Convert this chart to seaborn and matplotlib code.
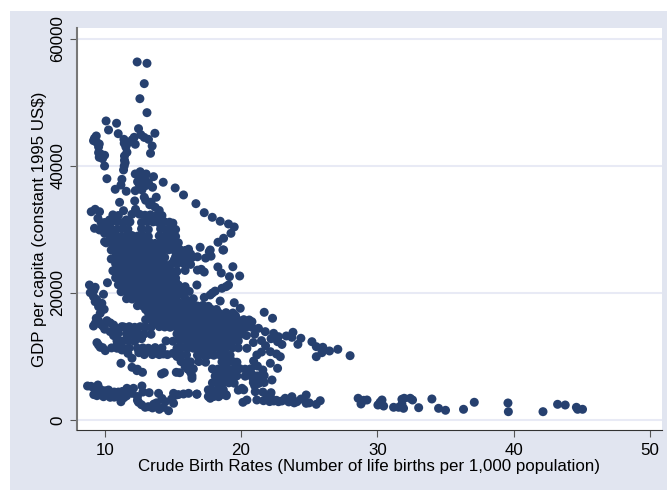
import matplotlib
matplotlib.use('Agg')
import matplotlib.pyplot as plt
from matplotlib.patches import Rectangle
import pandas as pd
import seaborn as sns

# (birth rate, gdp per capita), one list per part of the cloud
top_points = [
    (12.38,56385),(13.1,56170),(12.9,52970),(12.58,50600),(13.1,48400),(10.1,47090),(10.87,46730),
    (10.28,45675),(12.48,45880),(13.68,45150),(10.99,45090),(12.65,44930),(12.16,44520),(9.38,44730),
    (9.25,44360),(9.18,43990),(9.43,43680),(9.6,43470),(11.41,44200),(13.21,44200),(11.43,43580),
    (11.75,43680),(12.24,43420),(13.48,43150),(13.36,42000),(11.63,42160),(11.45,41580),(9.55,42100),
    (9.99,41690),(9.6,41370),(9.84,41160),(9.99,40000),(11.5,40520),(11.43,40000),(11.38,39375),
    (10.16,38000),(10.77,36330),(11.26,37900),(11.19,37000),(11.58,36020),(12.24,38745),(12.6,39100),
    (13.04,38745),(13.58,38320),(12.41,37530),(13.21,37370),(13.51,36650),(12.24,36110),(12.73,36225),
    (12.9,35080),(13.78,35080),(14.29,37440),(15.17,36540),(15.78,35440),(16.69,34070),(17.3,32650),
    (17.89,31920),(18.47,31300),(19.08,30870),(19.5,30400),(19.26,29400),(18.72,28620),(18.31,27990),
    (17.74,26775),(17.0,27200),(16.15,26900),(18.72,26775),(11.09,34280),(11.38,32960),(12.26,33180),
    (9.01,32800),(9.3,33180),(9.62,32800),(9.5,31770),(9.74,31080),(9.25,30190),(9.62,29925),
    (9.99,30190),(10.35,30440),(10.35,31500),(10.84,32020),(11.58,31500),(9.99,29400),(10.48,29140),
    (9.99,28080),(10.48,26775),(10.48,25360),(12.2,34500),(13.3,33900),(13.7,33500),(14.0,33000),
    (12.7,38300),(12.95,37900),(12.55,37000),(13.0,36900),(12.8,37400),(11.55,43000),(12.0,44100),(12.9,44500),
    (9.55,43000),(9.7,41900),(11.45,40900),(13.4,34300),(13.0,34600),(13.95,32500),(14.2,32200),(12.0,32400),
]
core_upper = [
    (10.6,32300),(11.0,32200),(12.55,32400),(12.95,32250),(13.35,32300),(13.75,32100),
    (10.0,31100),(10.5,31200),(10.95,31250),(11.4,31150),(11.85,31200),(12.7,31100),(13.1,31250),(13.55,31200),
    (13.95,31100),(14.35,31250),(14.75,31150),(15.0,31000),
    (10.4,30100),(10.85,30000),(11.3,30150),(11.7,30050),(12.7,30100),(13.2,30000),(14.1,30100),(14.5,30000),
    (15.0,30150),(15.2,30000),
    (10.4,28950),(10.8,29050),(11.2,28900),(11.6,29000),(12.0,29050),(12.4,28950),(12.8,29000),(13.2,28900),
    (14.0,29000),(14.4,28950),(14.8,29050),(15.2,28900),
    (10.1,27900),(10.5,27850),(10.9,27950),(11.3,27900),(11.7,27800),(12.1,27950),(12.5,27850),(12.9,27900),
    (13.3,27950),(13.7,27800),(14.1,27900),(14.5,27850),(14.9,27950),(15.4,27900),
    (10.7,26800),(11.1,26750),(11.5,26850),(11.9,26800),(12.3,26700),(12.7,26850),(13.1,26750),(13.5,26800),
    (13.9,26850),(14.3,26700),(14.7,26800),(15.1,26750),(15.5,26850),(15.9,26700),
    (10.8,25700),(11.2,25650),(11.6,25750),(12.0,25700),(12.4,25600),(12.8,25750),(13.2,25650),(13.6,25700),
    (14.0,25750),(14.4,25600),(15.2,25700),(15.6,25650),(16.0,25750),(16.4,25600),(16.8,25700),(17.4,25500),(17.8,25800),
    (10.8,24600),(11.2,24550),(11.6,24650),(12.0,24600),(12.4,24500),(12.8,24650),(13.2,24550),(13.6,24600),
    (14.0,24650),(14.4,24500),(14.9,24600),(15.3,24550),(15.8,24650),(16.3,24500),
    (10.6,23500),(11.0,23450),(11.4,23550),(11.8,23500),(12.2,23400),(12.6,23550),(13.0,23450),(13.4,23500),
    (13.8,23550),(14.2,23400),(14.6,23500),(14.9,23450),(15.3,23400),(15.9,23550),(16.8,23600),(17.3,23300),
    (10.8,22400),(11.2,22350),(11.6,22450),(12.0,22400),(12.4,22300),(12.8,22450),(13.2,22350),(13.6,22400),
    (14.0,22450),(14.4,22300),(14.8,22400),(15.2,22350),
]
core_between = [
    (10.6,28400),(11.0,28450),(11.4,28350),(11.8,28400),(12.2,28500),(12.6,28350),(13.0,28450),(14.2,28400),(14.6,28350),(15.0,28450),
    (10.9,27300),(11.3,27350),(11.7,27250),(12.1,27300),(12.5,27400),(12.9,27250),(13.3,27350),(13.7,27300),(14.1,27250),(14.5,27400),(14.9,27300),(15.3,27350),
    (11.0,26200),(11.4,26250),(11.8,26150),(12.2,26200),(12.6,26300),(13.0,26150),(13.4,26250),(13.8,26200),(14.2,26150),(15.4,26300),(15.8,26200),(16.3,26150),
    (11.0,25100),(11.4,25150),(11.8,25050),(12.2,25100),(12.6,25200),(13.0,25050),(13.4,25150),(13.8,25100),(14.2,25050),(15.1,25200),(15.5,25100),(16.0,25050),
    (11.0,24000),(11.4,24050),(11.8,23950),(12.2,24000),(12.6,24100),(13.0,23950),(13.4,24050),(13.8,24000),(14.2,23950),(14.6,24100),
    (11.0,22900),(11.4,22950),(11.8,22850),(12.2,22900),(12.6,23000),(13.0,22850),(13.4,22950),(13.8,22900),(14.2,22850),(14.6,23000),(15.0,22900),
    (11.2,21800),(11.6,21850),(12.0,21750),(12.4,21800),(12.8,21900),(13.2,21750),(13.6,21850),(14.0,21800),(14.4,21750),(14.8,21900),(15.2,21800),
    (11.4,20700),(11.8,20750),(12.2,20650),(12.6,20700),(13.0,20800),(13.4,20650),(13.8,20750),(14.2,20700),(14.6,20650),(15.0,20800),(15.4,20700),(15.8,20650),
    (11.8,19600),(12.2,19650),(12.6,19550),(13.0,19600),(13.4,19700),(13.8,19550),(14.2,19650),(14.6,19600),(15.0,19550),(15.4,19700),(15.8,19600),
    (12.6,18500),(13.0,18550),(13.4,18450),(13.8,18500),(14.2,18600),(14.6,18450),(15.0,18550),(15.4,18500),(15.8,18450),(16.2,18600),
    (13.0,17400),(13.4,17450),(13.8,17350),(14.2,17400),(14.6,17500),(15.0,17350),(15.4,17450),(15.8,17400),(16.2,17350),(16.6,17500),(17.0,17400),(17.4,17350),(17.8,17450),(18.2,17400),
    (13.4,16300),(13.8,16350),(14.2,16250),(14.6,16300),(15.0,16400),(15.4,16250),(15.8,16350),(16.2,16300),(16.6,16250),(17.0,16400),(17.4,16300),(17.8,16250),(18.2,16350),(18.6,16300),(19.0,16250),(19.6,16400),
    (13.6,15200),(14.0,15250),(14.4,15150),(14.8,15200),(15.2,15300),(15.6,15150),(16.0,15250),(16.4,15200),(16.8,15150),(17.2,15300),(17.6,15200),(18.0,15150),(18.4,15250),(18.8,15200),(19.2,15150),(19.6,15300),(20.2,15200),
    (15.6,14100),(16.0,14150),(16.4,14050),(16.8,14100),(17.2,14200),(17.6,14050),(18.0,14150),(18.4,14100),(18.8,14050),(19.2,14200),
    (15.9,13000),(16.3,13050),(16.7,12950),(17.1,13000),(17.5,13100),(17.9,12950),(18.3,13050),(18.7,13000),(19.1,12950),
    (16.2,11900),(16.6,11950),(17.0,11850),(17.4,11900),(17.8,12000),(18.2,11850),(18.6,11950),(19.0,11900),
]
core_lower = [
    (11.0,21300),(11.4,21250),(11.8,21350),(12.2,21300),(12.6,21200),(13.0,21350),(13.4,21250),(13.8,21300),
    (14.2,21350),(14.6,21200),(15.0,21300),(15.4,21250),(15.9,21000),
    (11.2,20200),(11.6,20150),(12.0,20250),(12.4,20200),(12.8,20100),(13.2,20250),(13.6,20150),(14.0,20200),
    (14.4,20250),(14.8,20100),(15.2,20200),(15.6,20150),(16.2,20250),
    (11.6,19100),(12.0,19050),(12.4,19150),(12.8,19100),(13.2,19000),(13.6,19150),(14.0,19050),(14.4,19100),
    (14.8,19150),(15.2,19000),(16.0,18900),(16.5,19100),
    (12.4,18000),(12.8,17950),(13.2,18050),(13.6,18000),(14.0,17900),(14.4,18050),(14.8,17950),(15.2,18000),
    (15.6,18050),(16.0,17900),(16.4,18000),(16.8,17950),(17.2,18050),(17.6,17900),
    (13.2,16900),(13.6,16850),(14.0,16950),(14.4,16900),(14.8,16800),(15.2,16950),(15.6,16850),(16.0,16900),
    (16.4,16950),(16.8,16800),(17.2,16900),(17.6,16850),(18.0,16950),(18.4,16800),(18.9,16900),(19.4,16850),
    (13.0,15800),(13.4,15750),(13.8,15850),(14.2,15800),(14.6,15700),(15.0,15850),(15.4,15750),(15.8,15800),
    (16.2,15850),(16.6,15700),(17.0,15800),(17.4,15750),(17.8,15850),(18.2,15700),(18.6,15800),(19.0,15750),
    (19.4,15850),(19.8,15700),(20.2,15800),(20.6,15750),
    (11.4,14650),(11.8,14700),(12.2,14600),(12.6,14700),(13.0,14650),(13.4,14600),(14.0,14700),(14.4,14650),
    (14.8,14600),(15.2,14700),(15.6,14650),(16.0,14600),(16.4,14700),(16.8,14650),(17.2,14600),(17.6,14700),
    (18.0,14650),(18.4,14600),(18.8,14700),(19.2,14650),(19.6,14600),(20.0,14700),(20.4,14650),(20.8,14600),
    (11.6,13550),(12.0,13500),(12.4,13600),(12.9,13550),(13.4,13500),(15.3,13550),(15.7,13600),(16.1,13500),
    (16.5,13550),(16.9,13600),(17.3,13500),(17.7,13550),(18.1,13600),(18.5,13500),(18.9,13550),(19.3,13600),
    (19.7,13500),(20.1,13550),
    (10.9,12450),(11.3,12400),(11.7,12500),(12.2,12400),(14.5,12450),(15.0,12400),(15.5,12500),(16.0,12450),
    (16.5,12400),(17.0,12500),(17.4,12450),(17.8,12400),(18.2,12500),(18.6,12450),(19.0,12400),(19.4,12500),
    (19.8,12450),(10.5,11350),(10.9,11300),(11.3,11400),(11.8,11350),(12.4,11300),(12.8,11350),(13.2,11300),
    (13.7,11400),(14.2,11350),(15.3,11300),(15.7,11400),(16.1,11350),(16.5,11300),(16.9,11400),(17.3,11350),
    (17.7,11300),(18.1,11400),(18.5,11350),(18.9,11300),(19.4,11400),(19.8,11350),
]
left_bands = [
    (8.88,21260),(9.3,20900),(10.2,21620),(8.94,20050),(9.91,19800),(9.18,19420),(9.3,18630),(9.79,18380),
    (9.55,17850),(9.96,17430),(9.67,16800),(9.38,16020),(9.18,14800),(9.55,15640),(10.16,15640),(10.65,14960),
    (11.26,14700),(9.43,12180),(9.67,11450),(10.04,10920),(9.55,11800),(9.3,15200),(9.7,15100),(10.0,14300),
    (10.4,13910),(10.65,13300),(10.9,13020),(12.0,14175),(11.63,12870),(11.26,11025),(12.0,9720),(11.19,8930),
    (12.0,8300),(12.36,7770),(12.77,7510),(14.17,7245),(14.37,7450),(15.25,7510),(15.5,7450),(16.4,6570),
    (16.3,7500),(15.9,8400),(15.6,9200),(15.3,10000),(15.0,10500),(13.5,10300),(13.9,10500),(14.3,10400),
    (14.6,10300),(12.5,10600),(12.9,10300),(13.1,11000),(9.4,19000),(9.6,18000),(9.2,20400),(9.85,14800),
    (10.4,15300),(10.8,14500),(11.0,13700),(12.3,13200),(12.7,12800),(10.9,11800),(11.7,10500),(9.85,11400),(12.4,8000),
]
mid_low = [
    (14.0,10300),(15.6,10200),(16.0,10250),(16.8,10200),(17.2,10300),(17.6,10250),(18.0,10200),(18.4,10300),
    (18.8,10250),(19.2,10200),(16.0,9100),(16.3,9150),(16.9,9200),(17.4,9100),(18.6,9150),(19.0,9100),(19.4,9200),
    (19.7,9100),(16.5,8050),(16.1,8000),(17.9,8050),(18.3,8000),(18.7,8100),(19.1,8000),(19.5,8050),(19.9,8100),
    (20.3,8000),(20.7,8050),(16.4,6950),(18.1,6900),(18.5,6950),(18.9,7000),(19.3,6900),(19.7,6950),(20.3,6900),
    (20.7,7000),(21.2,6950),(17.9,5850),(18.3,5800),(18.7,5900),(19.1,5850),(19.5,5800),(20.9,5900),(21.3,5800),
    (21.7,5900),(17.6,4750),(17.9,4700),(18.3,4800),(18.7,4750),(19.8,4700),(20.2,4750),(17.6,3700),(18.0,3700),
    (18.4,3800),(18.9,4000),
]
low_band = [
    (8.74,5355),(9.0,5300),(9.5,5510),(9.67,4835),(10.28,4725),(9.43,3830),(9.91,3670),(10.4,3575),(10.9,3830),
    (11.19,2880),(11.0,4400),(11.63,4990),(12.11,4990),(12.73,5355),(13.26,4300),(13.95,4200),(15.05,4200),
    (15.78,4095),(16.15,4200),(16.76,4095),(12.48,2790),(12.97,2000),(14,1685),(14.68,1465),(15.05,2630),
    (14.44,2880),(13.6,2500),(13.2,2100),(14.2,3400),(12.4,3700),(11.6,3800),(10.7,4400),(10.0,4600),(9.2,4000),
    (13.5,1900),(14.9,3300),(12.8,4400),(11.9,4600),(15.2,3900),(9.2,5100),(9.7,4300),(10.2,4100),(10.7,3600),
    (11.3,4500),(11.4,3500),(12.0,4200),(12.4,3100),(12.7,2400),(13.8,2700),(14.3,2000),(15.4,4000),
]
right_side = [
    (16.76,21260),(19.08,21260),(17.74,19690),(18.1,20300),(18.6,20740),(18.47,18740),(19.5,18470),(19.94,17590),
    (21.7,16960),(22.31,16020),(20.8,15480),(21.28,14440),(21.78,13910),(22.39,13650),(22.75,13120),(22.68,12330),
    (23.32,13230),(23.81,13810),(23.73,13020),(24.39,12870),(24.17,11920),(25.2,12330),(25.52,11550),(26.0,11450),
    (26.49,10870),(27.1,11135),(25.52,9970),(25.93,10600),(28.0,10130),(20.43,11290),(20.92,9290),(21.16,10240),
    (22.15,10760),(22.88,9970),(22.15,8930),(22.68,8140),(21.6,7875),(20.8,7200),(22.27,6300),(21.28,5780),
    (21.04,4460),(20.07,4990),(24.78,3940),(20.14,2790),(20.43,3150),(21.16,3150),(21.65,3040),(22.15,3670),
    (22.75,2880),(23.24,3420),(23.73,3670),(24.1,2880),(24.78,2630),(25.52,2470),(25.81,3040),(16.76,4050),
    (18.92,3830),(18.35,3670),(17.74,3420),(21.0,13500),(21.5,12500),(21.8,11700),(22.2,12800),(20.9,12200),
    (21.5,10700),(22.6,10400),(21.2,8500),(21.7,7000),(20.9,6400),(21.6,6200),(22.2,4300),(21.6,4400),(21.0,5400),
    (22.6,3100),(23.0,3000),(23.5,2850),(24.4,3300),(22.4,3000),(21.9,3600),(19.7,14000),(20.4,13300),(23.0,11900),
    (19.4,24140),(19.9,22680),(17.08,23730),(18.67,26775),(17.67,26500),(19.15,22570),(18.55,23150),(18.3,24100),
    (17.3,19300),(17.9,20000),(18.9,21000),(25.0,2700),(23.9,2700),(22.1,2900),
]
tail_points = [
    (28.59,3420),(28.8,2520),(29.24,3150),(29.0,3100),(30.04,2360),(30.34,3150),(30.2,2800),(30.46,2200),(31.19,2000),
    (31.56,2000),(31.8,3260),(31.97,3420),(31.92,1840),(31.8,2500),(32.41,3420),(32.58,3150),(33.03,1940),
    (34,3310),(34.49,1840),(35,1530),(36.32,1685),(37.11,2790),(39.58,2680),(39.61,1310),(42.15,1310),
    (43.22,2470),(43.78,2360),(44.6,2000),(44.69,1685),(45.05,1685),
]

x_ticks = [10, 20, 30, 40, 50]
y_ticks = [0, 20000, 40000, 60000]

all_points = (top_points + core_upper + core_between + core_lower + left_bands
              + mid_low + low_band + right_side + tail_points)
df = pd.DataFrame(all_points, columns=['birth_rate', 'gdp'])

navy = '#26406f'
panel = '#e1e5f0'

plt.rcParams['font.family'] = ['Liberation Sans', 'DejaVu Sans']

fig = plt.figure(figsize=(6.67, 4.9), dpi=100, facecolor='white')
# bluish panel with a thin white strip on the left and top
fig.patches.append(Rectangle((10 / 667, 0), 657 / 667, 479 / 490, transform=fig.transFigure,
                             facecolor=panel, edgecolor='none', zorder=-1))
ax = fig.add_axes([76.5 / 667, 1 - 430 / 490, (662 - 76.5) / 667, (430 - 28) / 490])
ax.set_facecolor('white')

ax.set_axisbelow(True)
ax.yaxis.grid(True, color='#e8eaf5', linewidth=1.5)
ax.xaxis.grid(False)
sns.scatterplot(data=df, x='birth_rate', y='gdp', color=navy, s=42, edgecolor='none', linewidth=0, ax=ax, legend=False)

ax.set_xlim(7.93, 50.88)
ax.set_ylim(-1575, 61732)
ax.set_xticks(x_ticks)
ax.set_yticks(y_ticks)
ax.tick_params(axis='x', length=5, width=0.8, color='#555555', labelsize=12.2, pad=4.5)
ax.tick_params(axis='y', length=5, width=0.8, color='#555555', labelsize=12.2, pad=3)
for lab in ax.get_yticklabels():
    lab.set_rotation(90)
    lab.set_va('center')

ax.set_xlabel('Crude Birth Rates (Number of life births per 1,000 population)', fontsize=12.2, labelpad=0.5)
ax.set_ylabel('GDP per capita (constant 1995 US$)', fontsize=12.2, labelpad=2.5)

ax.spines['top'].set_visible(False)
ax.spines['right'].set_visible(False)
ax.spines['left'].set_color('#777777')
ax.spines['left'].set_linewidth(1.5)
ax.spines['bottom'].set_color('#333333')
ax.spines['bottom'].set_linewidth(0.8)

fig.savefig('out.png', dpi=100, facecolor='white')
